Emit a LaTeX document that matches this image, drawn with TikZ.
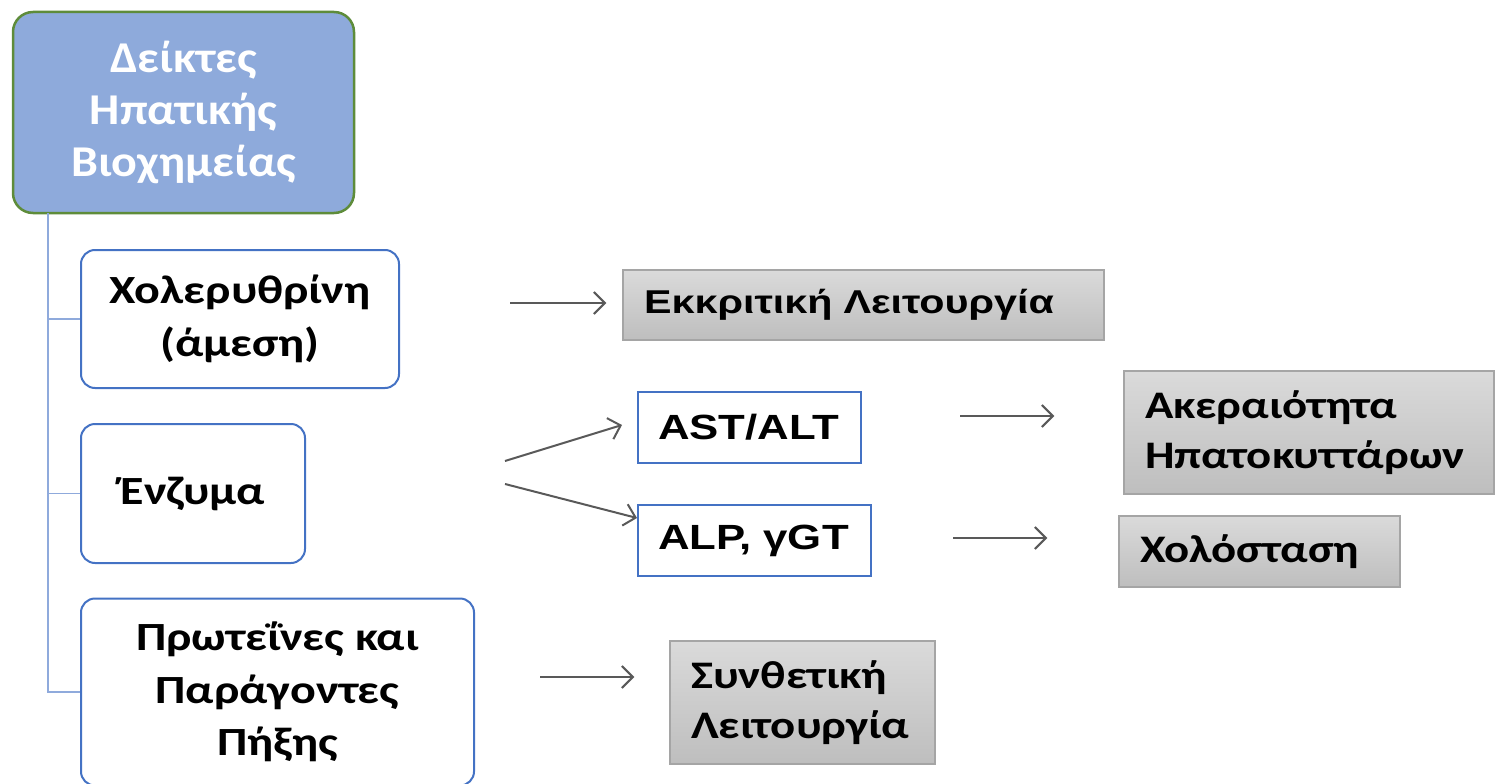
\documentclass[tikz,border=0pt]{standalone}
\usepackage{fontspec}
\setmainfont{Carlito}
\newfontfamily\headfont[FakeStretch=1.09]{Carlito}
\newfontfamily\itemfont[FakeStretch=1.2]{Carlito}
\newfontfamily\arialwide[FakeStretch=1.25]{Liberation Sans}
\usetikzlibrary{arrows.meta}
\definecolor{headfill}{HTML}{8EAADB}
\definecolor{headline}{HTML}{5E8C3A}
\definecolor{boxblue}{HTML}{4472C4}
\definecolor{trunkblue}{HTML}{8FAADC}
\definecolor{arrowgrey}{HTML}{595959}
\definecolor{greytop}{HTML}{DADADA}
\definecolor{greybot}{HTML}{BEBEBE}
\definecolor{greyline}{HTML}{A5A5A5}
\tikzset{
  headbox/.style={draw=headline, line width=2.5pt, fill=headfill, rounded corners=20pt,
    text=white, font=\headfont\bfseries\fontsize{44}{52}\selectfont, align=center, inner sep=0pt},
  itembox/.style={draw=boxblue, line width=2pt, fill=white, rounded corners=14pt,
    font=\itemfont\bfseries\fontsize{40}{52.5}\selectfont, align=center, inner sep=0pt},
  labbox/.style={draw=boxblue, line width=2pt, fill=white, inner xsep=20pt, inner ysep=0pt,
    font=\arialwide\bfseries\fontsize{35}{40}\selectfont, align=left},
  resbox/.style={draw=greyline, line width=1.5pt, top color=greytop, bottom color=greybot,
    inner xsep=21pt, inner ysep=0pt, align=left},
  flow/.style={draw=arrowgrey, line width=2pt, -{Straight Barb[length=11pt,width=22pt,line width=2pt]}},
  trunk/.style={draw=trunkblue, line width=1.5pt}
}
\begin{document}
\begin{tikzpicture}[x=1pt,y=-1pt]
\useasboundingbox (0,0) rectangle (1496,784);
\begin{scope}
\clip (0,0) rectangle (1496,784);

% header
\node[headbox, minimum width=341pt, minimum height=201pt] (head) at (183.5,112.5)
  {\raisebox{-3pt}{\parbox{300pt}{\centering Δείκτες\\Ηπατικής\\Βιοχημείας}}};

% indicator groups
\node[itembox, minimum width=318pt, minimum height=138pt] (bili) at (240,319)
  {Χολερυθρίνη\\(άμεση)};
\node[itembox, minimum width=224pt, minimum height=139pt] (enz) at (193,493.5)
  {Ένζυμα};
\node[itembox, minimum width=393pt, minimum height=187pt] (prot) at (277.5,692)
  {Πρωτεΐνες και\\Παράγοντες\\Πήξης};

% tree connector
\coordinate (root) at (48,213);
\draw[trunk] (root) |- (bili.west);
\draw[trunk] (root) |- (enz.west);
\draw[trunk] (root) |- (prot.west);

% enzyme tests
\node[labbox, minimum width=223pt, minimum height=71pt, text width=183pt] (ast) at (749.5,427.5) {AST/ALT};
\node[labbox, minimum width=233pt, minimum height=71pt, text width=193pt] (alp) at (754.5,540.5) {ALP, γGT};

% liver functions
\node[resbox, minimum width=481pt, minimum height=70pt, text width=439pt,
  font=\arialwide\bfseries\fontsize{33}{38}\selectfont] (secr) at (863.5,305) {Εκκριτική Λειτουργία};
\node[resbox, minimum width=370pt, minimum height=123pt, text width=328pt,
  font=\itemfont\bfseries\fontsize{39}{50}\selectfont] (integ) at (1309,432.5) {Ακεραιότητα\\Ηπατοκυττάρων};
\node[resbox, minimum width=281pt, minimum height=71pt, text width=239pt,
  font=\itemfont\bfseries\fontsize{39}{50}\selectfont] (chol) at (1259.5,551.5) {Χολόσταση};
\node[resbox, minimum width=265pt, minimum height=123pt, text width=223pt,
  font=\itemfont\bfseries\fontsize{39}{50}\selectfont] (synth) at (802.5,702.5) {Συνθετική\\Λειτουργία};

% arrows
\coordinate (a1) at (510,303);
\draw[flow] (a1) -- ([xshift=-16pt]secr.west |- a1);
\coordinate (e1) at (505,461);
\coordinate (e2) at (505,484);
\draw[flow] (e1) -- (622,425);
\draw[flow] (e2) -- (637,518);
\coordinate (a3) at (960,416);
\draw[flow] (a3) -- ([xshift=-69pt]integ.west |- a3);
\coordinate (a4) at (953,538);
\draw[flow] (a4) -- ([xshift=-71pt]chol.west |- a4);
\coordinate (a5) at (540,677);
\draw[flow] (a5) -- ([xshift=-35pt]synth.west |- a5);
\end{scope}
\end{tikzpicture}
\end{document}
